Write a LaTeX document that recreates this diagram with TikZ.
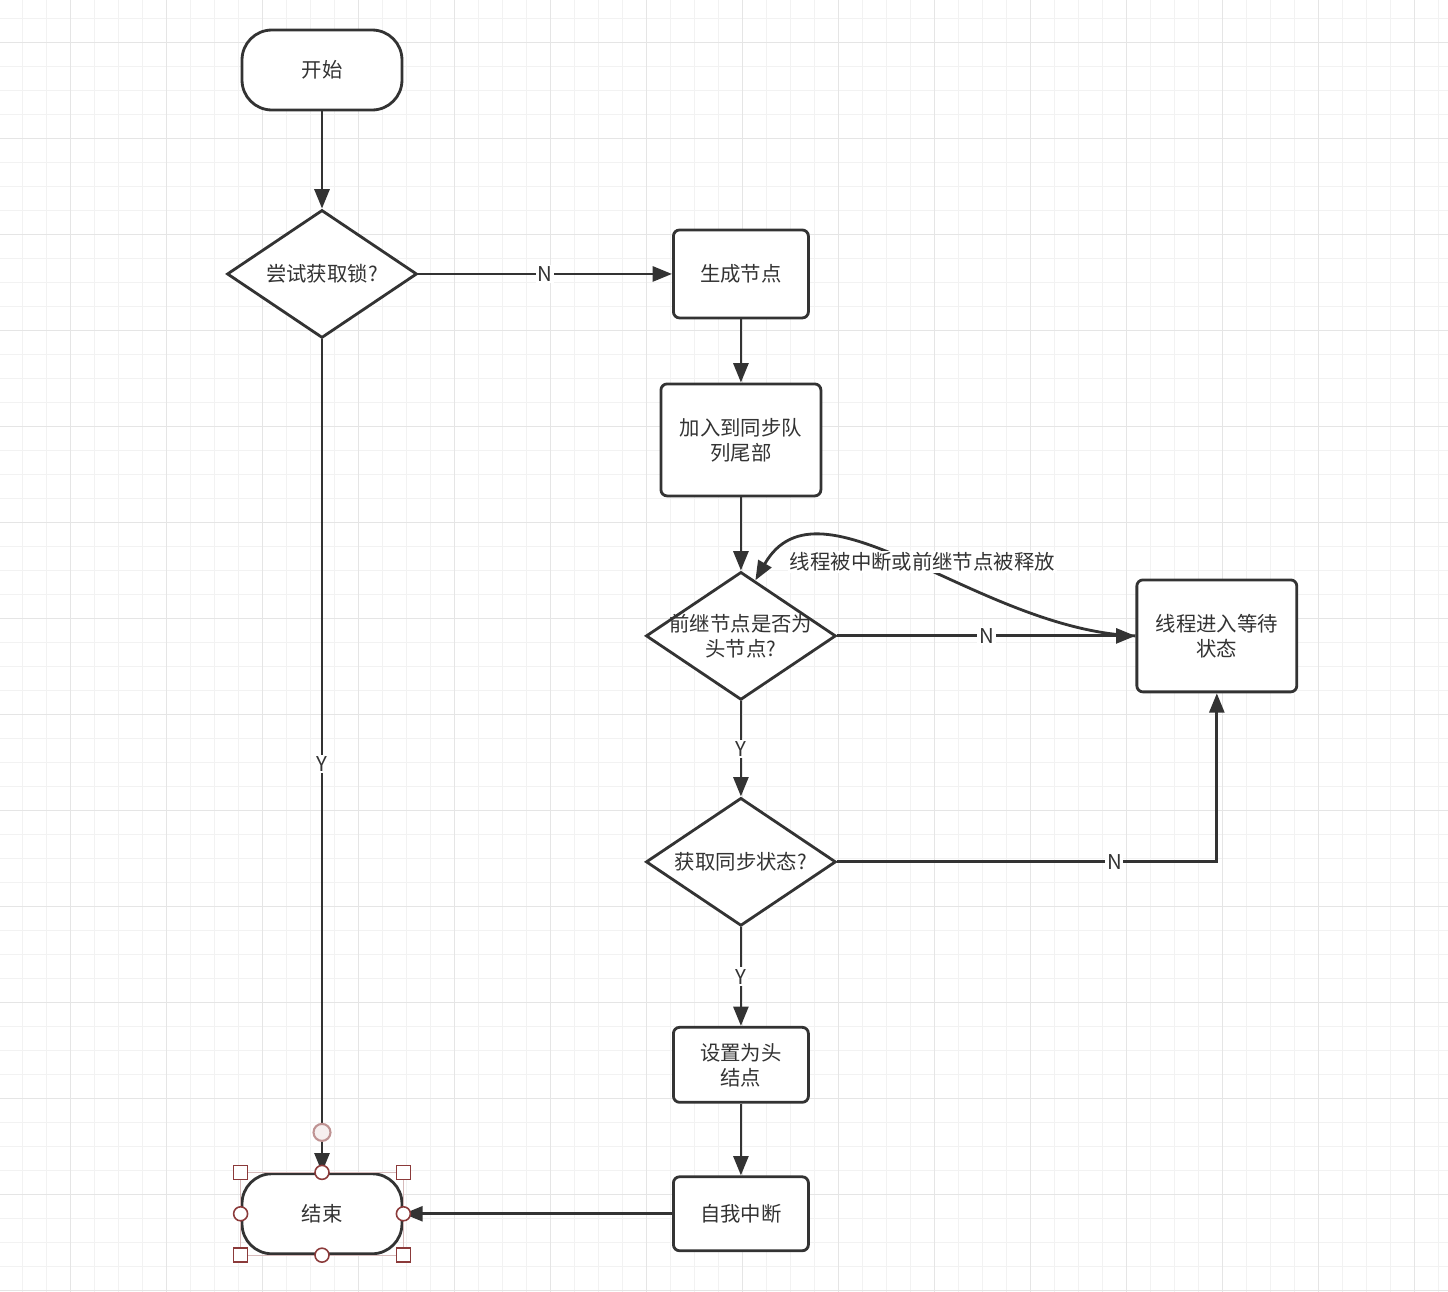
\documentclass[tikz,border=0pt]{standalone}
\usepackage{fontspec}
\newfontfamily\cjk{Noto Sans CJK SC}
\usetikzlibrary{shapes.geometric, arrows.meta, positioning, calc}
\definecolor{ink}{HTML}{333333}
\definecolor{gridminor}{HTML}{F2F2F2}
\definecolor{gridmajor}{HTML}{E5E5E5}
\definecolor{handle}{HTML}{8B3A3A}

\begin{document}
\begin{tikzpicture}[
    x=0.02cm, y=-0.02cm,
    font=\cjk\fontsize{11.6pt}{14.2pt}\selectfont,
    text=ink,
    node distance=3cm,
    term/.style={rectangle, draw=ink, fill=white, rounded corners=17pt, minimum width=3.2cm, minimum height=1.6cm, ultra thick},
    block/.style={rectangle, draw=ink, fill=white, align=center, rounded corners=3.5pt, minimum width=2.7cm, minimum height=1.76cm, ultra thick},
    decision/.style={diamond, draw=ink, fill=white, minimum width=3.8cm, minimum height=2.56cm, inner sep=0pt, ultra thick},
    line/.style={draw=ink, -{Triangle[length=11pt,width=8.5pt]}, ultra thick},
    tag/.style={fill=white, inner sep=1pt},
    every label/.style={align=center},
    minorline/.style={draw=gridminor, line width=0.8pt},
    majorline/.style={draw=gridmajor, line width=0.8pt},
    handlebox/.style={draw=handle!35, line width=0.6pt},
    handlemark/.style={draw=handle, fill=white, line width=0.9pt}
]

\fill [white] (0,0) rectangle (1448,1292);
\useasboundingbox (0,0) rectangle (1448,1292);
\foreach \k in {0,...,59} \draw [minorline] ({22.7+24*\k},0) -- ++(0,1292);
\foreach \k in {0,...,53} \draw [minorline] (0,{18.7+24*\k}) -- ++(1448,0);
\foreach \k in {0,...,14} \draw [majorline] ({70.7+96*\k},0) -- ++(0,1292);
\foreach \k in {0,...,13} \draw [majorline] (0,{42.7+96*\k}) -- ++(1448,0);

\node [term] (start) at (322,70) {开始};
\node [decision, below of=start, node distance=4.08cm, label={center:尝试获取锁?}] (try) {};
\node [block, right of=try, node distance=8.38cm] (gen) {生成节点};
\node [block, below of=gen, node distance=3.32cm, minimum width=3.2cm, minimum height=2.24cm] (enq) {加入到同步队\\列尾部};
\node [decision, below of=enq, node distance=3.92cm, label={center:前继节点是否为\\头节点?}] (pred) {};
\node [block, right of=pred, node distance=9.52cm, minimum width=3.2cm, minimum height=2.24cm] (wait) {线程进入等待\\状态};
\node [decision, below of=pred, node distance=4.52cm, label={center:获取同步状态?}] (acq) {};
\node [block, below of=acq, node distance=4.06cm, minimum height=1.5cm] (sethead) {设置为头\\结点};
\node [block, below of=sethead, node distance=2.98cm, minimum height=1.48cm] (intr) {自我中断};
\node [term, left of=intr, node distance=8.38cm] (stop) {结束};

\coordinate (predtip) at ($(pred.north)!0.15!(pred.east)$);

\path [line] (start) -- (try);
\path [line] (try) -- node [tag] {N} (gen);
\path [line] (try) -- node [tag, pos=0.51] {Y} (stop);
\path [line] (gen) -- (enq);
\path [line] (enq) -- (pred);
\path [line] (pred) -- node [tag] {N} (wait);
\path [line] (pred) -- node [tag] {Y} (acq);
\path [line] (acq) -| node [tag, pos=0.365] {N} (wait);
\path [line] (acq) -- node [tag] {Y} (sethead);
\path [line] (sethead) -- (intr);
\path [line] (intr) -- (stop);
\path [line] (wait.west) .. controls +(-158,-6) and +(64,-112) .. node [tag, pos=0.47, yshift=4pt] {线程被中断或前继节点被释放} (predtip);

\draw [handlebox] (stop.north west) rectangle (stop.south east);
\foreach \c in {north west, north east, south west, south east}
    \draw [handlemark] ($(stop.\c)+(-7,-7)$) rectangle +(14,14);
\foreach \c in {north, south, east, west}
    \draw [handlemark] (stop.\c) circle [radius=0.14cm];
\draw [draw=handle!55, fill=handle!8, line width=1.2pt] ($(stop.north)+(0,-40)$) circle [radius=0.17cm];

\end{tikzpicture}
\end{document}
